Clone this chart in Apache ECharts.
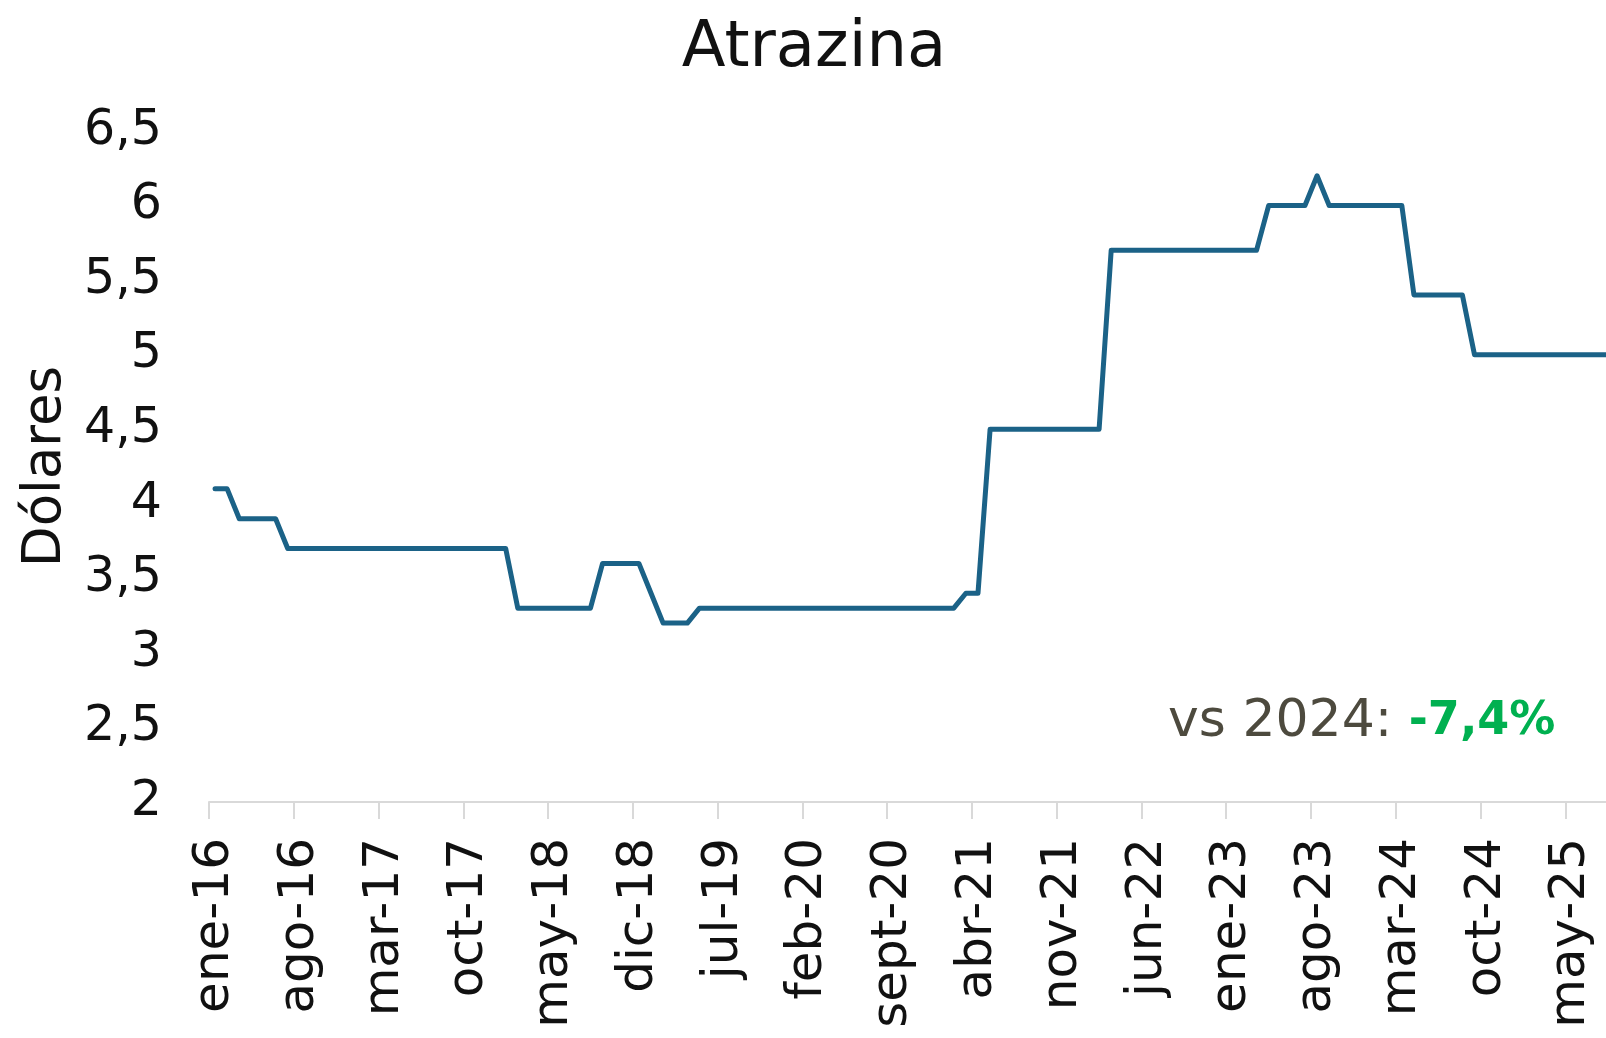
<!DOCTYPE html>
<html>
<head>
<meta charset="utf-8">
<title>Atrazina</title>
<script src="https://cdn.jsdelivr.net/npm/echarts@6/dist/echarts.min.js"></script>
<style>
    html, body{
        margin: 0;
        padding: 0;
        background: #fff;
    }
    #chart{
        width: 1606px;
        height: 1038px;
    }
</style>
</head>
<body>
<div id="chart"></div>
<script>
    // meses en español, como en las etiquetas del eje
    const meses = ['ene', 'feb', 'mar', 'abr', 'may', 'jun', 'jul', 'ago', 'sept', 'oct', 'nov', 'dic'];
    const anios = ['16', '17', '18', '19', '20', '21', '22', '23', '24', '25'];
    const ultimoMes = 9; // serie hasta sept-25

    // precio mensual (dólares), ene-16 en adelante
    const precios = [
        4.1, 4.1, 3.9, 3.9, 3.9, 3.9, 3.7, 3.7, 3.7, 3.7, 3.7, 3.7,   // 2016
        3.7, 3.7, 3.7, 3.7, 3.7, 3.7, 3.7, 3.7, 3.7, 3.7, 3.7, 3.7,   // 2017
        3.7, 3.3, 3.3, 3.3, 3.3, 3.3, 3.3, 3.3, 3.6, 3.6, 3.6, 3.6,   // 2018
        3.4, 3.2, 3.2, 3.2, 3.3, 3.3, 3.3, 3.3, 3.3, 3.3, 3.3, 3.3,   // 2019
        3.3, 3.3, 3.3, 3.3, 3.3, 3.3, 3.3, 3.3, 3.3, 3.3, 3.3, 3.3,   // 2020
        3.3, 3.3, 3.4, 3.4, 4.5, 4.5, 4.5, 4.5, 4.5, 4.5, 4.5, 4.5,   // 2021
        4.5, 4.5, 5.7, 5.7, 5.7, 5.7, 5.7, 5.7, 5.7, 5.7, 5.7, 5.7,   // 2022
        5.7, 5.7, 5.7, 6.0, 6.0, 6.0, 6.0, 6.2, 6.0, 6.0, 6.0, 6.0,   // 2023
        6.0, 6.0, 6.0, 5.4, 5.4, 5.4, 5.4, 5.4, 5.0, 5.0, 5.0, 5.0,   // 2024
        5.0, 5.0, 5.0, 5.0, 5.0, 5.0, 5.0, 5.0, 5.0                   // 2025
    ];

    const variacion = '-7,4%';

    let categorias = [];
    for (let a = 0; a < anios.length; a++){
        for (let m = 0; m < 12; m++){
            if (a == anios.length - 1 && m > ultimoMes - 1) break;
            categorias.push(meses[m] + '-' + anios[a]);
        }
    }

    const fuente = 'DejaVu Sans';

    let chart = echarts.init(document.getElementById('chart'));
    let option = {
        animation: false,
        title: {
            text: 'Atrazina',
            left: 809,
            top: 12,
            textAlign: 'center',
            textStyle: {
                fontFamily: fuente,
                fontSize: 64,
                fontWeight: 'normal',
                color: '#111'
            }
        },
        // el eje sigue más allá del borde derecho (el gráfico original está recortado)
        grid: {
            left: 209,
            top: 131,
            bottom: 236,
            width: categorias.length * 12.11,
            outerBoundsMode: 'none'
        },
        xAxis: {
            type: 'category',
            data: categorias,
            boundaryGap: true,
            axisLine: {
                lineStyle: {color: '#d9d9d9', width: 2}
            },
            axisTick: {
                show: true,
                interval: 6,
                length: 17,
                lineStyle: {color: '#d9d9d9', width: 2}
            },
            axisLabel: {
                interval: 6,
                rotate: 90,
                margin: 36,
                fontFamily: fuente,
                fontSize: 50,
                color: '#111'
            }
        },
        yAxis: {
            type: 'value',
            min: 2,
            max: 6.5,
            interval: 0.5,
            name: 'Dólares',
            nameLocation: 'middle',
            nameGap: 128,
            nameRotate: 90,
            nameTextStyle: {
                fontFamily: fuente,
                fontSize: 53,
                color: '#111'
            },
            axisLine: {show: false},
            axisTick: {show: false},
            splitLine: {show: false},
            axisLabel: {
                margin: 47,
                fontFamily: fuente,
                fontSize: 49,
                color: '#111',
                formatter: function(v){
                    return String(v).replace('.', ',');
                }
            }
        },
        series: [
            {
                name: 'Atrazina',
                type: 'line',
                data: precios,
                symbol: 'none',
                lineStyle: {
                    color: '#1b6287',
                    width: 5,
                    join: 'round',
                    cap: 'round'
                }
            }
        ],
        graphic: [
            {
                type: 'text',
                left: 1168,
                top: 696,
                style: {
                    text: '{a|vs 2024: }{b|' + variacion + '}',
                    rich: {
                        a: {
                            fontFamily: fuente,
                            fontSize: 52,
                            fill: '#4d4a3e'
                        },
                        b: {
                            fontFamily: fuente,
                            fontSize: 46,
                            fontWeight: 'bold',
                            fill: '#00b050'
                        }
                    }
                }
            }
        ]
    };
    chart.setOption(option);
</script>
</body>
</html>
